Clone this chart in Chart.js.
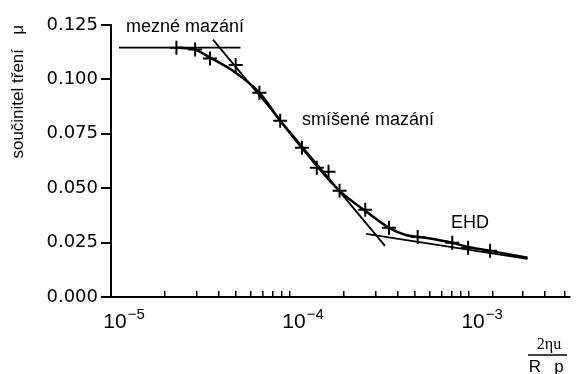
<!DOCTYPE html>
<html>
<head>
<meta charset="utf-8">
<script src="https://cdn.jsdelivr.net/npm/chart.js@4/dist/chart.umd.min.js"></script>
<style>
  html, body { margin: 0; padding: 0; background: #fff; }
  #wrap { width: 579px; height: 374px; }
</style>
</head>
<body>
<div id="wrap"><canvas id="chart" width="579" height="374"></canvas></div>
<script>
// Measured points (crosses)
const pointsX = [2.32e-5, 2.95e-5, 3.57e-5, 4.97e-5, 6.74e-5, 8.81e-5, 1.165e-4, 1.41e-4, 1.64e-4, 1.89e-4, 2.63e-4, 3.57e-4, 5.16e-4, 8.05e-4, 9.87e-4, 1.31e-3];
const pointsY = [0.1146, 0.1137, 0.1096, 0.1066, 0.0939, 0.0810, 0.0686, 0.0594, 0.0576, 0.0488, 0.0401, 0.0318, 0.0276, 0.0249, 0.0226, 0.0212];

// Smooth curve through the measurements
const curveX = [2.32e-5, 2.95e-5, 3.57e-5, 4.97e-5, 6.74e-5, 8.81e-5, 1.165e-4, 1.41e-4, 1.89e-4, 2.63e-4, 3.57e-4, 4.43e-4, 5.71e-4, 8.05e-4, 9.87e-4, 1.31e-3, 2.12e-3];
const curveY = [0.1146, 0.1137, 0.1100, 0.1031, 0.0939, 0.0810, 0.0686, 0.0603, 0.0488, 0.0396, 0.0318, 0.0285, 0.0272, 0.0249, 0.0230, 0.0212, 0.0180];

// Asymptotes: boundary, mixed, EHD
const boundaryX = [1.107e-5, 5.29e-5];
const boundaryY = [0.1146, 0.1146];
const mixedX = [3.71e-5, 3.39e-4];
const mixedY = [0.1183, 0.0235];
const ehdX = [2.66e-4, 2.12e-3];
const ehdY = [0.0290, 0.0175];

// Axes
const xTicks = [1e-5, 2e-5, 3e-5, 4e-5, 5e-5, 6e-5, 7e-5, 8e-5, 9e-5,
                1e-4, 2e-4, 3e-4, 4e-4, 5e-4, 6e-4, 7e-4, 8e-4, 9e-4,
                1e-3, 1.35e-3, 2e-3, 2.65e-3, 3.4e-3];
const decades = [1e-5, 1e-4, 1e-3];
const decadeExp = ['\u22125', '\u22124', '\u22123'];
const yTicks = [0, 0.025, 0.05, 0.075, 0.1, 0.125];

const SANS = '"Liberation Sans", Arial, sans-serif';
const toXY = (xs, ys) => xs.map((x, i) => ({ x, y: ys[i] }));

const textPlugin = {
  id: 'texts',
  afterDraw(chart) {
    const { ctx, scales: { x } } = chart;
    ctx.save();
    ctx.fillStyle = '#000';
    ctx.strokeStyle = '#000';
    ctx.textBaseline = 'alphabetic';

    // decade labels 10^n
    decades.forEach((v, i) => {
      const px = x.getPixelForValue(v);
      ctx.font = '21px ' + SANS;
      ctx.textAlign = 'center';
      ctx.fillText('10', px + 4, x.top + 31);
      const w = ctx.measureText('10').width;
      ctx.font = '15px ' + SANS;
      ctx.textAlign = 'left';
      ctx.fillText(decadeExp[i], px + 4 + w / 2 + 1, x.top + 22);
    });

    // regime labels
    ctx.font = '18px ' + SANS;
    ctx.textAlign = 'left';
    ctx.fillText('mezné mazání', 126, 32);
    ctx.fillText('smíšené mazání', 302, 125);
    ctx.fillText('EHD', 451, 228);

    // x axis title as fraction
    ctx.textAlign = 'center';
    ctx.font = '16px "Liberation Serif", "Times New Roman", serif';
    ctx.fillText('2\u03b7u', 549, 349);
    ctx.lineWidth = 1.5;
    ctx.beginPath();
    ctx.moveTo(528, 355);
    ctx.lineTo(567, 355);
    ctx.stroke();
    ctx.font = '17px ' + SANS;
    ctx.fillText('R', 535, 372);
    ctx.fillText('p', 559, 372);
    ctx.restore();
  }
};

new Chart(document.getElementById('chart'), {
  type: 'line',
  data: {
    datasets: [
      { data: toXY(boundaryX, boundaryY), borderColor: '#000', borderWidth: 1.8, pointRadius: 0 },
      { data: toXY(mixedX, mixedY), borderColor: '#000', borderWidth: 1.8, pointRadius: 0 },
      { data: toXY(ehdX, ehdY), borderColor: '#000', borderWidth: 1.8, pointRadius: 0 },
      { data: toXY(curveX, curveY), borderColor: '#000', borderWidth: 2.5, pointRadius: 0, cubicInterpolationMode: 'monotone' },
      { data: toXY(pointsX, pointsY), showLine: false, pointStyle: 'cross', pointRadius: 7, pointBorderWidth: 2, pointBorderColor: '#000', borderColor: '#000' }
    ]
  },
  options: {
    responsive: false,
    animation: false,
    layout: { padding: { left: 0, right: 4, top: 25, bottom: 0 } },
    plugins: { legend: { display: false }, tooltip: { enabled: false } },
    scales: {
      x: {
        type: 'logarithmic',
        min: 1e-5,
        max: 3.66e-3,
        afterBuildTicks: s => { s.ticks = xTicks.map(v => ({ value: v })); },
        afterFit: s => { s.height = 77; },
        ticks: { display: false },
        grid: { drawOnChartArea: false, drawTicks: true, tickLength: -6, color: '#000', lineWidth: 1.5 },
        border: { color: '#000', width: 2 }
      },
      y: {
        min: 0,
        max: 0.125,
        afterBuildTicks: s => { s.ticks = yTicks.map(v => ({ value: v })); },
        afterFit: s => { s.width = 111; },
        ticks: {
          color: '#000',
          padding: 3,
          font: { family: '"DejaVu Sans", sans-serif', size: 18 },
          callback: v => v.toFixed(3)
        },
        grid: { drawOnChartArea: false, tickLength: 10, color: '#000', lineWidth: 2 },
        border: { color: '#000', width: 2 },
        title: {
          display: true,
          text: 'součinitel tření   μ',
          align: 'end',
          color: '#000',
          padding: { top: 8, bottom: 0 },
          font: { family: SANS, size: 17 }
        }
      }
    }
  },
  plugins: [textPlugin]
});
</script>
</body>
</html>
